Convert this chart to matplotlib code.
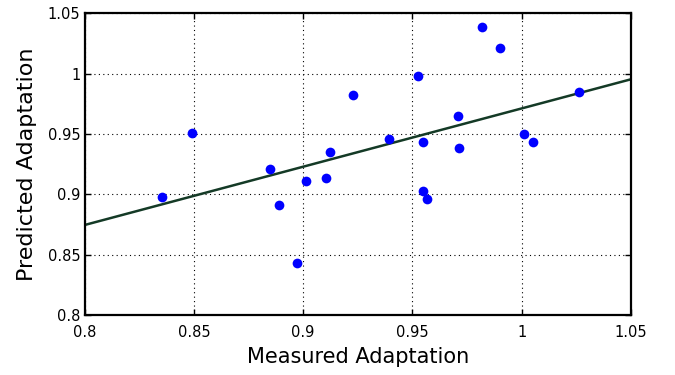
import matplotlib
matplotlib.use("Agg")
import matplotlib.pyplot as plt

measured = [0.8354, 0.8493, 0.8848, 0.8891, 0.8971, 0.9013, 0.9103, 0.9125, 0.9230,
            0.9392, 0.9526, 0.9550, 0.9550, 0.9569, 0.9709, 0.9715, 0.9818, 0.9903,
            1.0013, 1.0051, 1.0263]
predicted = [0.898, 0.9506, 0.921, 0.891, 0.8428, 0.911, 0.9133, 0.935, 0.9826,
             0.946, 0.998, 0.943, 0.9028, 0.8959, 0.965, 0.938, 1.0386, 1.021,
             0.950, 0.943, 0.9848]
fit_x = [0.8, 1.05]
fit_y = [0.8746, 0.9953]
xticks = [0.8, 0.85, 0.9, 0.95, 1.0, 1.05]
xticklabels = ["0.8", "0.85", "0.9", "0.95", "1", "1.05"]
yticks = [0.8, 0.85, 0.9, 0.95, 1.0, 1.05]
yticklabels = ["0.8", "0.85", "0.9", "0.95", "1", "1.05"]

plt.rcParams['font.family'] = ['DejaVu Sans']
fig = plt.figure(figsize=(6.75, 3.75), dpi=100)
ax = fig.add_axes([0.1255, 0.16, 0.809, 0.8045])

ax.plot(fit_x, fit_y, color='#143a26', linewidth=1.8, zorder=2)
ax.plot(measured, predicted, 'o', color='#0000ff', markersize=7, markeredgewidth=0, zorder=3)

ax.set_xlim(0.8, 1.05)
ax.set_ylim(0.8, 1.05)
ax.set_xticks(xticks)
ax.set_xticklabels(xticklabels)
ax.set_yticks(yticks)
ax.set_yticklabels(yticklabels)
ax.tick_params(direction='in', top=True, right=True, length=4, width=1, labelsize=10.5)
ax.tick_params(axis='x', pad=7)
ax.tick_params(axis='y', pad=3)
ax.grid(True, linestyle=(0, (1, 3)), color='black', linewidth=0.8)
for s in ax.spines.values():
    s.set_linewidth(1.6)
ax.set_xlabel("Measured Adaptation", fontsize=15, labelpad=5)
ax.set_ylabel("Predicted Adaptation", fontsize=16, labelpad=8)

fig.savefig("out.png", dpi=100)
